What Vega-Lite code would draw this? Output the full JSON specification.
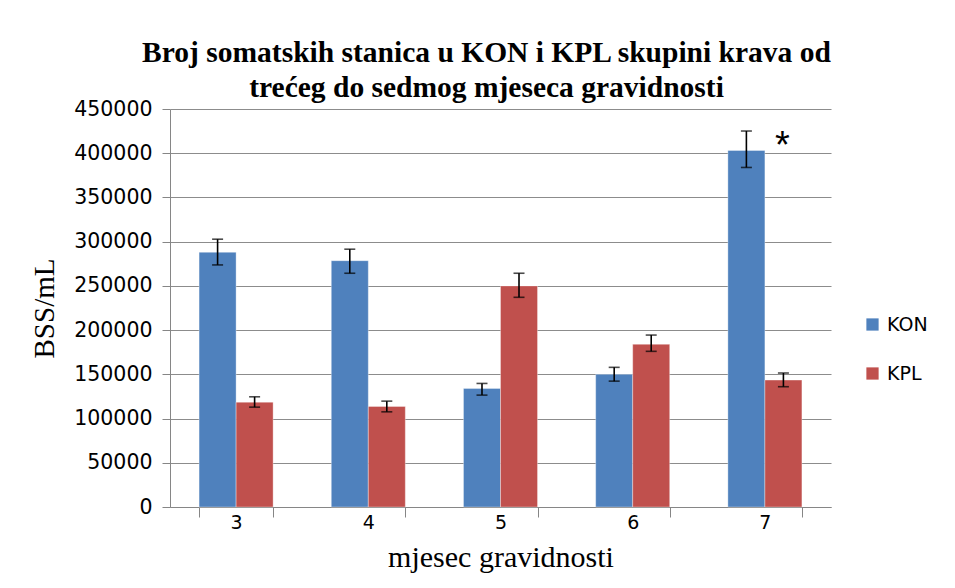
{
  "$schema": "https://vega.github.io/schema/vega-lite/v6.json",
  "autosize": "none",
  "width": 661,
  "height": 398,
  "padding": {"left": 170, "top": 109, "right": 124, "bottom": 81},
  "background": "white",
  "title": {
    "text": ["Broj somatskih stanica u KON i KPL skupini krava od", "trećeg do sedmog mjeseca gravidnosti"],
    "font": "Liberation Serif",
    "fontSize": 29.5,
    "fontWeight": "bold",
    "color": "#000000",
    "lineHeight": 35,
    "anchor": "middle",
    "dx": -14,
    "offset": -4
  },
  "data": {
    "values": [
      {"month": "3", "group": "KON", "value": 288000, "lo": 273700, "hi": 302800, "sig": ""},
      {"month": "3", "group": "KPL", "value": 118500, "lo": 112900, "hi": 124600, "sig": ""},
      {"month": "4", "group": "KON", "value": 278500, "lo": 264300, "hi": 291500, "sig": ""},
      {"month": "4", "group": "KPL", "value": 113700, "lo": 107600, "hi": 119700, "sig": ""},
      {"month": "5", "group": "KON", "value": 134100, "lo": 126500, "hi": 139700, "sig": ""},
      {"month": "5", "group": "KPL", "value": 250000, "lo": 237100, "hi": 264300, "sig": ""},
      {"month": "6", "group": "KON", "value": 150000, "lo": 142300, "hi": 157900, "sig": ""},
      {"month": "6", "group": "KPL", "value": 184000, "lo": 176000, "hi": 194400, "sig": ""},
      {"month": "7", "group": "KON", "value": 403100, "lo": 383900, "hi": 425100, "sig": "*"},
      {"month": "7", "group": "KPL", "value": 143500, "lo": 136000, "hi": 151500, "sig": ""}
    ]
  },
  "encoding": {
    "x": {
      "field": "month",
      "type": "nominal",
      "sort": ["3", "4", "5", "6", "7"],
      "scale": {"paddingInner": 0.44, "paddingOuter": 0.22},
      "axis": {
        "title": "mjesec gravidnosti",
        "titleFont": "Liberation Serif",
        "titleFontSize": 30,
        "titleFontWeight": "normal",
        "titleColor": "#000000",
        "titlePadding": 10,
        "labelAngle": 0,
        "labelFont": "DejaVu Sans",
        "labelFontSize": 19,
        "labelColor": "#000000",
        "labelPadding": -4,
        "tickBand": "extent",
        "tickSize": 10,
        "tickColor": "#868686",
        "domainColor": "#868686",
        "grid": false
      }
    },
    "xOffset": {"field": "group", "type": "nominal", "scale": {"paddingInner": 0, "paddingOuter": 0}}
  },
  "layer": [
    {
      "mark": {"type": "bar", "stroke": "#ffffff", "strokeOpacity": 0.35, "strokeWidth": 1},
      "encoding": {
        "y": {
          "field": "value",
          "type": "quantitative",
          "scale": {"domain": [0, 450000], "nice": false},
          "axis": {
            "title": "BSS/mL",
            "titleFont": "Liberation Serif",
            "titleFontSize": 29,
            "titleFontWeight": "normal",
            "titleColor": "#000000",
            "titlePadding": 14,
            "values": [0, 50000, 100000, 150000, 200000, 250000, 300000, 350000, 400000, 450000],
            "format": "d",
            "labelFont": "DejaVu Sans",
            "labelFontSize": 20.5,
            "labelColor": "#000000",
            "labelPadding": 10,
            "tickSize": 8,
            "tickColor": "#868686",
            "domainColor": "#868686",
            "gridColor": "#8c8c8c",
            "gridWidth": 1.2
          }
        },
        "color": {
          "field": "group",
          "type": "nominal",
          "scale": {"domain": ["KON", "KPL"], "range": ["#4F81BD", "#C0504D"]},
          "legend": {
            "title": null,
            "orient": "none",
            "legendX": 693,
            "legendY": 206,
            "symbolType": "square",
            "symbolSize": 150,
            "symbolStrokeWidth": 0,
            "labelFont": "DejaVu Sans",
            "labelFontSize": 19,
            "labelColor": "#000000",
            "rowPadding": 29,
            "labelOffset": 5
          }
        }
      }
    },
    {
      "mark": {"type": "rule", "color": "#000000", "strokeWidth": 1.6},
      "encoding": {
        "y": {"field": "lo", "type": "quantitative"},
        "y2": {"field": "hi"}
      }
    },
    {
      "mark": {"type": "tick", "color": "#000000", "thickness": 1.6, "size": 11},
      "encoding": {"y": {"field": "lo", "type": "quantitative"}}
    },
    {
      "mark": {"type": "tick", "color": "#000000", "thickness": 1.6, "size": 11},
      "encoding": {"y": {"field": "hi", "type": "quantitative"}}
    },
    {
      "mark": {"type": "text", "font": "Liberation Sans", "fontSize": 38, "align": "center", "baseline": "top", "dx": 36, "dy": -3, "color": "#000000"},
      "encoding": {
        "y": {"field": "hi", "type": "quantitative"},
        "text": {"field": "sig"}
      }
    }
  ],
  "config": {
    "view": {"stroke": null}
  }
}
